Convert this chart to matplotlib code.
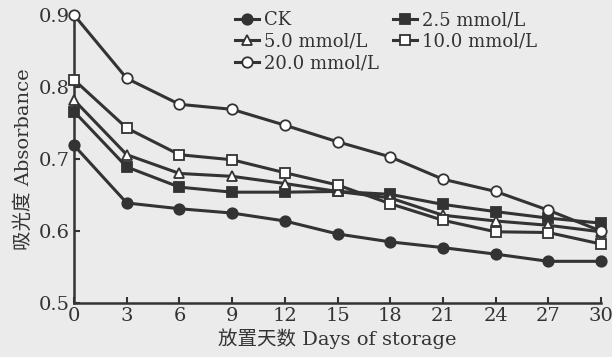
import matplotlib.pyplot as plt

plt.rcParams['font.family'] = ['DejaVu Serif', 'Noto Sans CJK SC']

# Data
days = [0, 3, 6, 9, 12, 15, 18, 21, 24, 27, 30]
ck = [0.719, 0.639, 0.631, 0.625, 0.614, 0.596, 0.585, 0.577, 0.568, 0.558, 0.558]
c25 = [0.766, 0.689, 0.661, 0.654, 0.654, 0.655, 0.651, 0.637, 0.627, 0.618, 0.611]
c50 = [0.782, 0.706, 0.680, 0.676, 0.666, 0.655, 0.646, 0.622, 0.614, 0.608, 0.599]
c100 = [0.810, 0.743, 0.706, 0.699, 0.681, 0.664, 0.638, 0.615, 0.599, 0.598, 0.582]
c200 = [0.900, 0.812, 0.776, 0.769, 0.747, 0.724, 0.703, 0.672, 0.655, 0.629, 0.600]

bg = '#ebebeb'
ink = '#333333'

fig = plt.figure(figsize=(6.12, 3.57), dpi=100, facecolor=bg)
ax = fig.add_axes([0.121, 0.151, 0.861, 0.807], facecolor=bg)

style = dict(color=ink, lw=2.2, ms=7.5, mew=1.3, clip_on=False, zorder=3)
h_ck, = ax.plot(days, ck, marker='o', mfc=ink, mec=ink, label='CK', **style)
h25, = ax.plot(days, c25, marker='s', mfc=ink, mec=ink, label='2.5 mmol/L', **style)
h50, = ax.plot(days, c50, marker='^', mfc='white', mec=ink, label='5.0 mmol/L', **style)
h100, = ax.plot(days, c100, marker='s', mfc='white', mec=ink, label='10.0 mmol/L', **style)
h200, = ax.plot(days, c200, marker='o', mfc='white', mec=ink, label='20.0 mmol/L', **style)

ax.set_xlim(0, 30)
ax.set_ylim(0.5, 0.9)
ax.set_xticks(days)
ax.set_yticks([0.5, 0.6, 0.7, 0.8, 0.9])
ax.set_yticklabels(['0.5', '0.6', '0.7', '0.8', '0.9'])
ax.tick_params(direction='in', length=4, width=1.5, colors=ink, labelsize=14, pad=3)
for s in ['top', 'right']:
    ax.spines[s].set_visible(False)
for s in ['left', 'bottom']:
    ax.spines[s].set_linewidth(1.8)
    ax.spines[s].set_color(ink)

ax.set_xlabel('放置天数 Days of storage', fontsize=14, color=ink, labelpad=2)
ax.set_ylabel('吸光度 Absorbance', fontsize=14, color=ink, labelpad=4)

ax.legend(handles=[h_ck, h50, h200, h25, h100], ncol=2, loc='upper left',
          bbox_to_anchor=(0.275, 1.07), frameon=False, fontsize=13,
          handlelength=1.3, handletextpad=0.3, columnspacing=0.8,
          labelspacing=0.2, labelcolor=ink)

fig.savefig('out.png', dpi=100, facecolor=bg)
